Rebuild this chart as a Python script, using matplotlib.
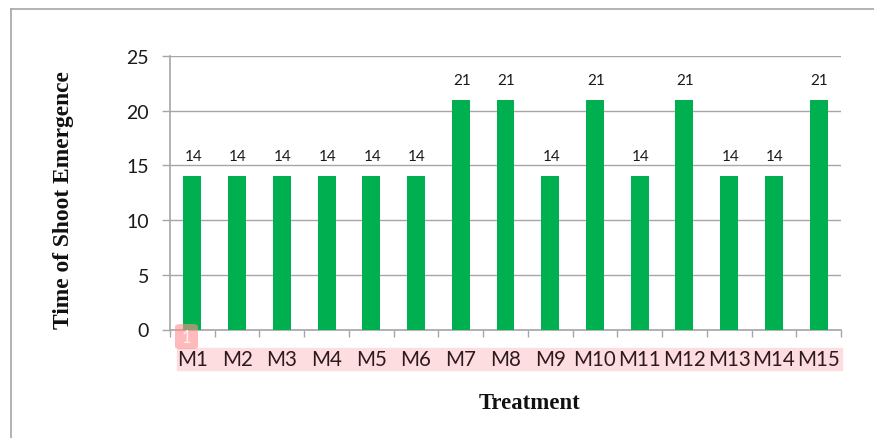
import matplotlib
matplotlib.use("Agg")
import matplotlib.pyplot as plt
from matplotlib.patches import Rectangle, FancyBboxPatch

W, H = 874, 439

treatments = ["M1", "M2", "M3", "M4", "M5", "M6", "M7", "M8", "M9", "M10",
              "M11", "M12", "M13", "M14", "M15"]
shoot_time = [14, 14, 14, 14, 14, 14, 21, 21, 14, 21, 14, 21, 14, 14, 21]
y_ticks = [0, 5, 10, 15, 20, 25]

GRAY = "#a6a6a6"
GREEN = "#00b050"
TEXT = "#1a1a1a"


# pixel position (from top left) -> figure fraction
def fx(x):
    return x / W


def fy(y):
    return 1 - y / H


fig = plt.figure(figsize=(W / 100, H / 100), dpi=100)
ax = fig.add_axes([fx(170), fy(330.5), (841 - 170) / W, (330.5 - 57) / H])
# axes above the pink band, so the labels stay readable
ax.set_zorder(2)
ax.patch.set_visible(False)

x_pos = list(range(len(treatments)))
ax.bar(x_pos, shoot_time, width=0.4, color=GREEN, zorder=3)

ax.set_xlim(-0.5, len(treatments) - 0.5)
ax.set_ylim(0, 25)
ax.set_yticks(y_ticks)
ax.set_yticklabels([str(v) for v in y_ticks], fontsize=14, family="Lato", color=TEXT)
ax.set_xticks([i - 0.5 for i in range(len(treatments) + 1)])
ax.set_xticklabels([])
ax.grid(axis="y", color=GRAY, linewidth=1, zorder=0)
ax.tick_params(axis="y", length=6, color=GRAY, width=1, pad=9)
ax.tick_params(axis="x", length=5, color=GRAY, width=1)
for side in ["top", "right"]:
    ax.spines[side].set_visible(False)
for side in ["left", "bottom"]:
    ax.spines[side].set_color(GRAY)
    ax.spines[side].set_linewidth(1.2)

# value labels
for x, v in zip(x_pos, shoot_time):
    ax.annotate(str(v), (x, v), xytext=(1, 13), textcoords="offset pixels",
                ha="center", va="bottom", fontsize=11, family="Lato", color=TEXT)

# category labels with the pink highlight behind them
fig.add_artist(Rectangle((fx(177), fy(371)), (842 - 177) / W, 22 / H,
                         transform=fig.transFigure, color="#fddde0", zorder=1))
for x, name in zip(x_pos, treatments):
    ax.annotate(name, (x, 0), xytext=(0, -30), textcoords="offset pixels",
                ha="center", va="center", fontsize=14.8, family="Lato",
                color="#2e1a1e", zorder=5, annotation_clip=False)

# highlight badge on M1
badge = FancyBboxPatch((fx(175), fy(350)), 23 / W, 25 / H,
                       boxstyle="round,pad=0,rounding_size=0.006",
                       transform=fig.transFigure, facecolor="#ff8f8f",
                       edgecolor="none", alpha=0.6, zorder=6)
fig.add_artist(badge)
fig.text(fx(186.5), fy(338), "1", ha="center", va="center", fontsize=12,
         family="Lato", color="#ffeeee", zorder=7)

# axis titles
fig.text(fx(63), fy(200), "Time of Shoot Emergence", rotation=90, ha="center",
         va="center", fontsize=16.9, fontweight="bold", family="Liberation Serif",
         color="#111111")
fig.text(fx(529.5), fy(404), "Treatment", ha="center", va="center", fontsize=16.4,
         fontweight="bold", family="Liberation Serif", color="#111111")

# page border of the screenshot
fig.add_artist(plt.Line2D([fx(11), fx(11)], [0, fy(10)], color=GRAY, linewidth=1.2))
fig.add_artist(plt.Line2D([fx(11), 1], [fy(10), fy(10)], color=GRAY, linewidth=1.2))

fig.savefig("out.png", dpi=100)
